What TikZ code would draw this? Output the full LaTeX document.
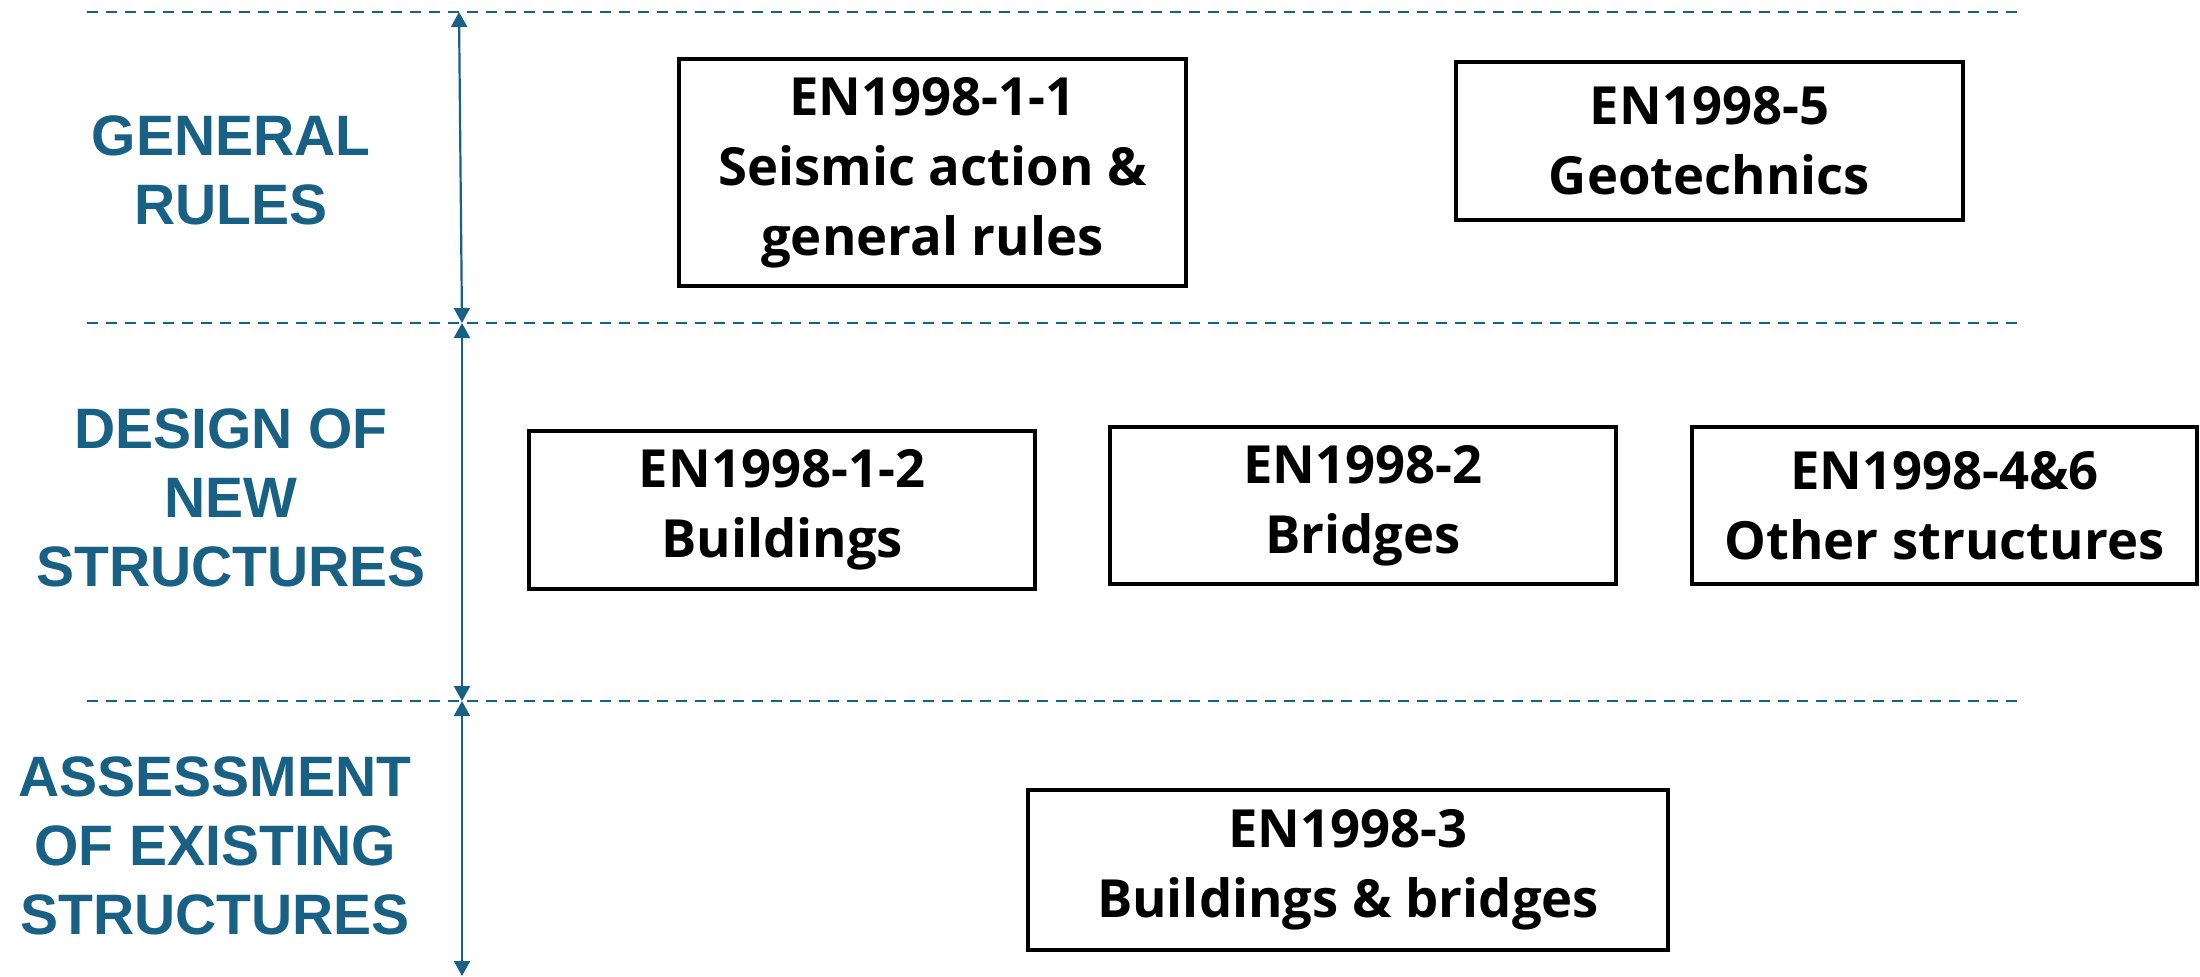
\documentclass[tikz,border=0pt]{standalone}
\usepackage{fontspec}
\usetikzlibrary{arrows.meta}
\newfontfamily\boxfont{Open Sans}
\newfontfamily\labfont{Liberation Sans}
\definecolor{tealblue}{RGB}{24,96,132}
\tikzset{
  stdbox/.style={draw=black, line width=2pt, inner sep=0pt, align=center,
    font=\boxfont\bfseries\fontsize{26.3}{35}\selectfont},
  rowlabel/.style={inner sep=0pt, align=center, text=tealblue,
    font=\labfont\bfseries\fontsize{28.5}{34.5}\selectfont},
  divider/.style={draw=tealblue, line width=1.3pt, dash pattern=on 5.5pt off 4pt},
  span/.style={draw=tealblue, line width=1.1pt, {Triangle[length=7.5pt,width=8pt]}-{Triangle[length=7.5pt,width=8pt]}}
}
\begin{document}
\begin{tikzpicture}[x=0.5pt,y=-0.5pt]
\useasboundingbox (0,0) rectangle (2200,976);
% dividers
\coordinate (d1l) at (87,12);  \coordinate (d1r) at (2018,12);
\coordinate (d2l) at (87,323); \coordinate (d2r) at (2018,323);
\coordinate (d3l) at (87,701); \coordinate (d3r) at (2018,701);
\draw[divider] (d1l) -- (d1r);
\draw[divider] (d2l) -- (d2r);
\draw[divider] (d3l) -- (d3r);
% span arrows
\coordinate (a0) at (459,12);
\coordinate (a1) at (462,323);
\coordinate (a2) at (462,701);
\coordinate (a3) at (462,976);
\draw[span] (a0) -- (a1);
\draw[span] (a1) -- (a2);
\draw[span] (a2) -- (a3);
% row labels
\node[rowlabel] (lg) at (231,170.5) {GENERAL\\RULES};
\node[rowlabel] (ld) at (231,498) {DESIGN OF\\NEW\\STRUCTURES};
\node[rowlabel] (la) at (215,846) {ASSESSMENT\\OF EXISTING\\STRUCTURES};
% boxes
\node[stdbox, minimum width=253.5pt, minimum height=113.5pt] (b11) at (932.5,172.5) {EN1998-1-1\\Seismic action \&\\general rules};
\node[stdbox, minimum width=253.5pt, minimum height=79pt] (b5) at (1709.5,141) {EN1998-5\\Geotechnics};
\node[stdbox, minimum width=253pt, minimum height=79pt] (b12) at (782,510) {EN1998-1-2\\Buildings};
\node[stdbox, minimum width=253pt, minimum height=78.5pt] (b2) at (1363,505.5) {EN1998-2\\Bridges};
\node[stdbox, minimum width=252.5pt, minimum height=78.5pt] (b46) at (1944.5,505.5) {EN1998-4\&6\\Other structures};
\node[stdbox, minimum width=320pt, minimum height=80pt] (b3) at (1348,870) {EN1998-3\\Buildings \& bridges};
\end{tikzpicture}
\end{document}
